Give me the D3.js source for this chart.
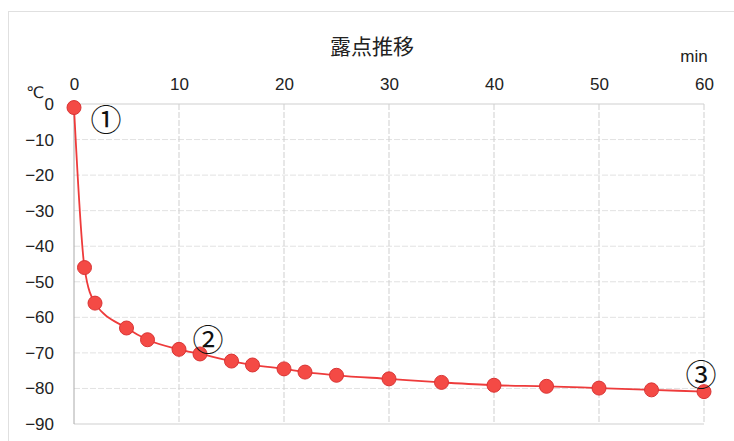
<!DOCTYPE html>
<html><head><meta charset="utf-8">
<script src="https://cdn.jsdelivr.net/npm/d3@7"></script>
<style>html,body{margin:0;padding:0;background:#fff;}</style>
</head><body>
<svg id="chart" width="734" height="441"></svg>
<script>
const title = "露点推移";
const minutes = [0, 1, 2, 5, 7, 10, 12, 15, 17, 20, 22, 25, 30, 35, 40, 45, 50, 55, 60];
const dewPoint = [-1, -46, -56, -63, -66.3, -69, -70.3, -72.3, -73.4, -74.5, -75.4, -76.3, -77.3, -78.3, -79.1, -79.4, -79.9, -80.4, -80.9];
const xTicks = [0, 10, 20, 30, 40, 50, 60];
const yTicks = [0, -10, -20, -30, -40, -50, -60, -70, -80, -90];
const notes = [{label: "①", x: 0}, {label: "②", x: 12}, {label: "③", x: 60}];

const svg = d3.select("#chart");
const m = {l: 74, r: 30, t: 104, b: 17};
const W = 734, H = 441;
const x = d3.scaleLinear().domain([0, 60]).range([m.l, W - m.r]);
const y = d3.scaleLinear().domain([0, -90]).range([m.t, H - m.b]);
const font = "'Liberation Sans', Arial, sans-serif";

// outer chart border
svg.append("rect").attr("x", 8.5).attr("y", 11.5).attr("width", 760).attr("height", 460)
  .attr("fill", "none").attr("stroke", "#e0e0e0");

// grid
const g = svg.append("g");
g.selectAll(".hg").data(yTicks.filter(d => d !== 0 && d !== -90)).join("line")
  .attr("x1", x(0)).attr("x2", x(60)).attr("y1", d => y(d)).attr("y2", d => y(d))
  .attr("stroke", "#e2e2e2").attr("stroke-dasharray", "6,2");
g.selectAll(".vg").data(xTicks.filter(d => d !== 0)).join("line")
  .attr("x1", d => x(d)).attr("x2", d => x(d)).attr("y1", y(0)).attr("y2", y(-90))
  .attr("stroke", "#cfcfcf").attr("stroke-dasharray", "6,2");
g.append("line").attr("x1", x(0)).attr("x2", x(60)).attr("y1", y(0)).attr("y2", y(0)).attr("stroke", "#cfcfcf");
g.append("line").attr("x1", x(0)).attr("x2", x(60)).attr("y1", y(-90)).attr("y2", y(-90)).attr("stroke", "#cfcfcf");

// axes
const xAxis = d3.axisTop(x).tickValues(xTicks).tickSize(0).tickPadding(14).tickFormat(d3.format("d"));
const xa = svg.append("g").attr("transform", `translate(0,${y(0)})`).call(xAxis);
const yAxis = d3.axisLeft(y).tickValues(yTicks).tickSize(0).tickPadding(20)
  .tickFormat(d => d < 0 ? "\u2212" + Math.abs(d) : String(d));
const ya = svg.append("g").attr("transform", `translate(${x(0)},0)`).call(yAxis);
[xa, ya].forEach(a => {
  a.select(".domain").remove();
  a.selectAll("text").attr("font-family", font).attr("font-size", 17).attr("fill", "#222");
});
svg.append("line").attr("x1", x(0)).attr("x2", x(0)).attr("y1", y(0)).attr("y2", y(-90)).attr("stroke", "#aaa");

// unit labels
svg.append("text").attr("x", 35).attr("y", 98).attr("text-anchor", "middle")
  .attr("font-family", "'DejaVu Sans', sans-serif").attr("font-size", 16).attr("fill", "#222").text("\u2103");
svg.append("text").attr("x", 694).attr("y", 62).attr("text-anchor", "middle")
  .attr("font-family", font).attr("font-size", 17).attr("fill", "#222").text("min");

// title
svg.append("text").attr("x", 372).attr("y", 54).attr("text-anchor", "middle")
  .attr("font-family", "'Noto Sans CJK JP', sans-serif").attr("font-size", 21).attr("fill", "#222").text(title);

// line + markers
const data = minutes.map((t, i) => ({t, v: dewPoint[i]}));
svg.append("path").datum(data)
  .attr("d", d3.line().x(d => x(d.t)).y(d => y(d.v)).curve(d3.curveMonotoneX))
  .attr("fill", "none").attr("stroke", "#ee3b3b").attr("stroke-width", 1.8);
svg.selectAll(".pt").data(data).join("circle")
  .attr("cx", d => x(d.t)).attr("cy", d => y(d.v)).attr("r", 7)
  .attr("fill", "#f44a45").attr("stroke", "#d93434").attr("stroke-width", 1);

// annotations
const vAt = t => dewPoint[minutes.indexOf(t)];
const offs = {0: [32, 10], 12: [8, -16], 60: [-3, -19]};
svg.selectAll(".note").data(notes).join("text")
  .attr("x", d => x(d.x) + offs[d.x][0]).attr("y", d => y(vAt(d.x)) + offs[d.x][1])
  .attr("text-anchor", "middle").attr("dominant-baseline", "central")
  .attr("font-family", "'Noto Sans CJK JP', sans-serif").attr("font-size", 31).attr("fill", "#111")
  .text(d => d.label);
</script>
</body></html>
